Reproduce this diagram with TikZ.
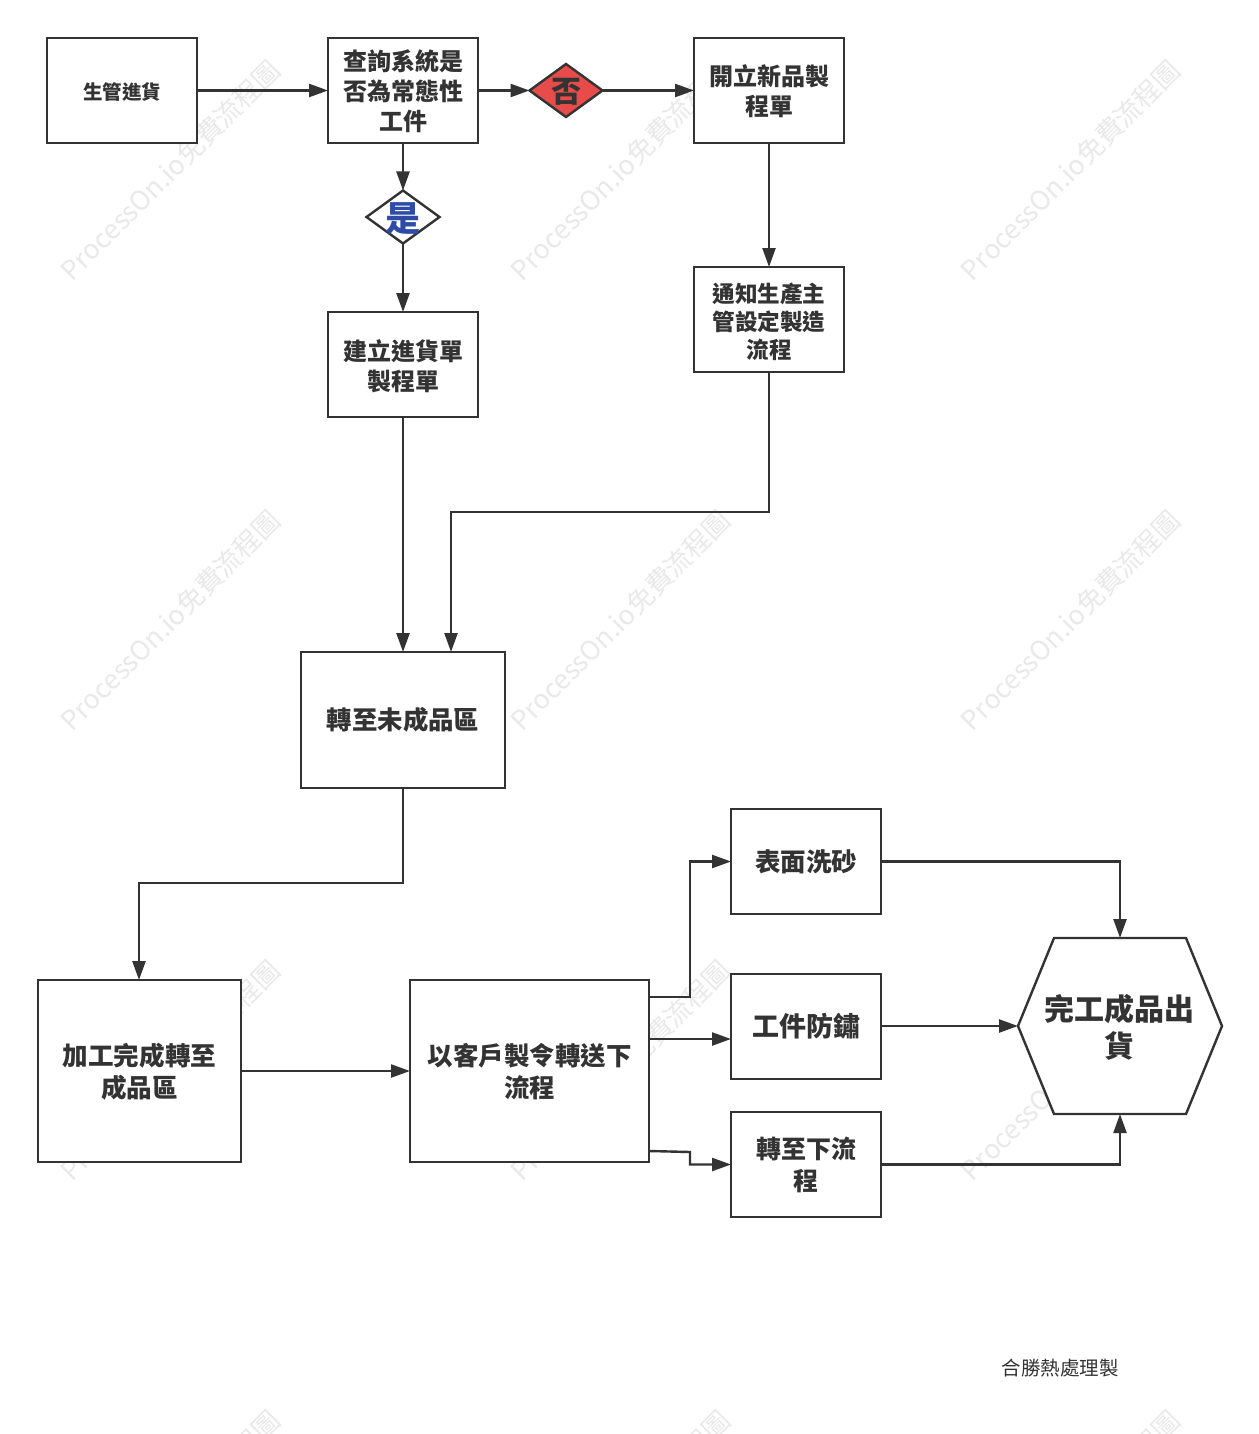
\documentclass[tikz,border=0pt]{standalone}
\usepackage{fontspec}
\setmainfont{Noto Sans CJK TC}
\usetikzlibrary{arrows.meta,shapes.geometric,shapes.symbols,calc}
\definecolor{ink}{HTML}{333333}
\definecolor{redfill}{HTML}{E84C4A}
\definecolor{yesblue}{HTML}{2F4BA8}
\definecolor{wmgray}{HTML}{E9E9E9}
\newcommand{\fs}[2]{\fontsize{#1pt}{#2pt}\selectfont}
\newcommand{\nudge}[1]{\setbox0\hbox{生}\rule{0pt}{\dimexpr\ht0+#1pt+#1pt\relax}}
\tikzset{
  every node/.style={inner sep=0pt,outer sep=0pt},
  box/.style={draw=ink,fill=white,line width=2.4pt,rectangle,align=center,text=ink},
  smallbox/.style={box,minimum width=150pt,minimum height=105pt},
  dia/.style={draw=ink,line width=2.4pt,diamond,minimum width=73pt,minimum height=53pt,aspect=1.37},
  hexa/.style={draw=ink,fill=white,line width=2.4pt,signal,signal to=east and west,signal pointer angle=135.5,minimum width=204pt,minimum height=176pt},
  flow/.style={draw=ink,line width=2.4pt,-{Triangle[length=19pt,width=13pt]}},
  wm/.style={rotate=45,text=wmgray,font=\fs{26.7}{27}}
}
\begin{document}
\begin{tikzpicture}[x=1pt,y=-1pt]
\useasboundingbox (0,0) rectangle (1258,1434);
\fill[white] (0,0) rectangle (1258,1434);
\begin{scope}
\clip (0,0) rectangle (1258,1434);
\foreach \r/\yy in {1/170,2/620,3/1070,4/1520}
  \foreach \c/\xx in {1/170.5,2/620.5,3/1070.5}
    \node[wm] (wm\r\c) at (\xx,\yy) {ProcessOn.io免費流程圖};
\end{scope}

\node[smallbox,font=\bfseries\fs{19.5}{24}] (a) at (122,90.5) {\nudge{2}生管進貨};
\node[smallbox,font=\bfseries\fs{24}{30}] (b) at (403,90.5) {\nudge{1}查詢系統是\\否為常態性\\工件};
\node[dia,fill=redfill] (dNo) at (566,90.5) {};
\node[text=ink,font=\bfseries\fs{30}{30}] (dNoT) at (566,92) {否};
\node[smallbox,font=\bfseries\fs{24}{30}] (c) at (769,90.5) {\nudge{1}開立新品製\\程單};
\node[dia,fill=white] (dYes) at (403,217) {};
\node[text=yesblue,font=\bfseries\fs{35}{35}] (dYesT) at (403,219) {是};
\node[smallbox,font=\bfseries\fs{24}{30}] (e) at (403,364.5) {\nudge{2}建立進貨單\\製程單};
\node[smallbox,font=\bfseries\fs{22.6}{28}] (f) at (769,319.5) {\nudge{2}通知生產主\\管設定製造\\流程};
\node[box,minimum width=204pt,minimum height=136pt,font=\bfseries\fs{25.4}{32}] (g) at (403,720) {轉至未成品區};
\node[box,minimum width=203pt,minimum height=182pt,font=\bfseries\fs{25.6}{32}] (h) at (139.5,1071) {\nudge{1}加工完成轉至\\成品區};
\node[box,minimum width=239pt,minimum height=182pt,font=\bfseries\fs{25.5}{32}] (i) at (529.5,1071) {\nudge{1}以客戶製令轉送下\\流程};
\node[smallbox,font=\bfseries\fs{25.5}{32}] (j) at (806,861.5) {表面洗砂};
\node[smallbox,font=\bfseries\fs{27}{32}] (k) at (806,1026.5) {工件防鏽};
\node[smallbox,font=\bfseries\fs{25}{32}] (l) at (806,1164.5) {轉至下流\\程};
\node[hexa] (hex) at (1120,1026) {};
\node[align=center,text=ink,font=\bfseries\fs{30}{37}] (hexT) at (1119.5,1027) {完工成品出\\貨};
\node[text=ink,font=\fs{19.5}{24}] (sig) at (1060,1368) {合勝熱處理製};

\coordinate (gIn) at ($(g.north)+(48,0)$);
\coordinate (bendA) at (451,512);
\coordinate (bendB) at (139,883);
\coordinate (hIn) at (bendB |- h.north);
\coordinate (iOutA) at ($(i.north east)+(0,17)$);
\coordinate (iOutB) at ($(i.north east)+(0,59)$);
\coordinate (iOutC) at ($(i.south east)+(0,-11)$);
\coordinate (bendC) at (690,997);
\coordinate (bendD) at (690,1152);
\coordinate (kIn) at (k.west |- iOutB);
\coordinate (kOut) at (k.east |- hex.west);

\draw[flow] (a.east) -- (b.west);
\draw[flow] (b.east) -- (dNo.west);
\draw[flow] (dNo.east) -- (c.west);
\draw[flow] (b.south) -- (dYes.north);
\draw[flow] (dYes.south) -- (e.north);
\draw[flow] (c.south) -- (f.north);
\draw[flow] (e.south) -- (g.north);
\draw[flow] (f.south) |- (bendA) -- (gIn);
\draw[flow] (g.south) |- (bendB) -- (hIn);
\draw[flow] (h.east |- i.west) -- (i.west);
\draw[flow] (iOutA) -- (bendC) |- (j.west);
\draw[flow] (iOutB) -- (kIn);
\draw[flow] (iOutC) -- (bendD) |- (l.west);
\draw[flow] (j.east) -| (hex.north);
\draw[flow] (kOut) -- (hex.west);
\draw[flow] (l.east) -| (hex.south);
\end{tikzpicture}
\end{document}
